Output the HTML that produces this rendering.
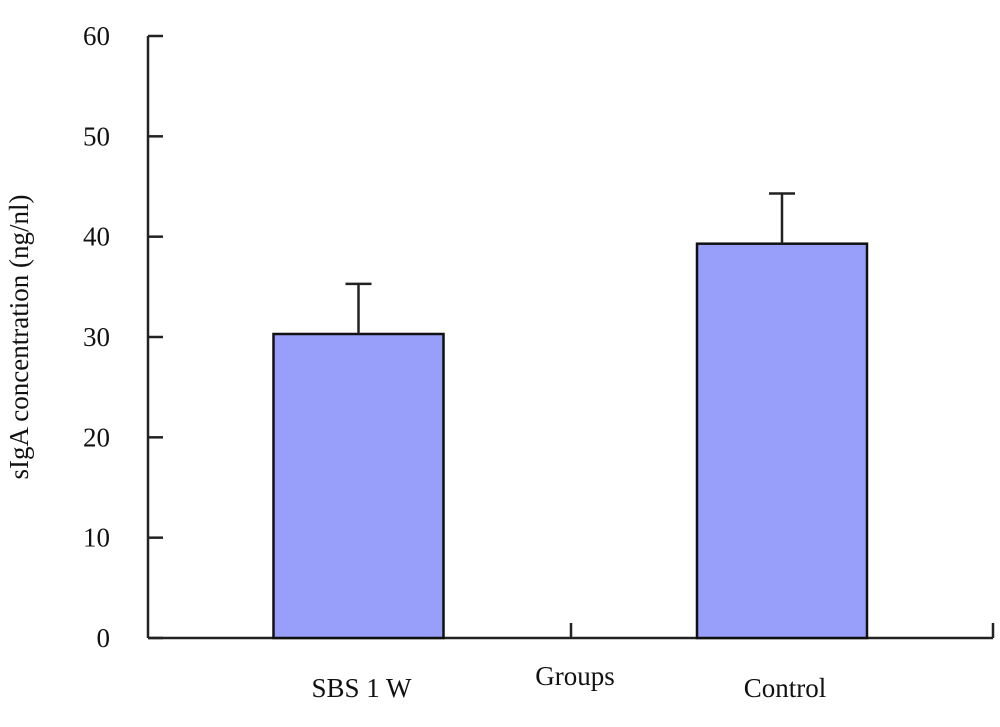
<!DOCTYPE html>
<html><head><meta charset="utf-8"><style>
html,body{margin:0;padding:0;background:#fff;}
svg text{font-family:"Liberation Serif","DejaVu Serif",serif;fill:#111;}
</style></head><body>
<svg id="chart" width="1000" height="722" viewBox="0 0 1000 722" xmlns="http://www.w3.org/2000/svg">
<g id="axes"></g>
<g id="bars"></g>
<text transform="translate(28,337) rotate(-90)" text-anchor="middle" font-size="27">sIgA concentration (ng/nl)</text>
<text x="575" y="685" text-anchor="middle" font-size="27">Groups</text>
</svg>
<script>
const categories = ["SBS 1 W", "Control"];
const values = [30.3, 39.3];
const errors = [5.0, 5.0];
const yTicks = [0, 10, 20, 30, 40, 50, 60];

const NS = "http://www.w3.org/2000/svg";
const x0 = 148, x1 = 993, yBase = 638, yTop = 36, yMax = 60;
const yScale = v => yBase - (v / yMax) * (yBase - yTop);
const barCenters = [358.5, 782];
const barW = 170;
function mk(tag, attrs, parent) {
  const e = document.createElementNS(NS, tag);
  for (const k in attrs) e.setAttribute(k, attrs[k]);
  parent.appendChild(e);
  return e;
}
const axes = document.getElementById('axes');
const bars = document.getElementById('bars');
let el = mk('line', {x1: x0, y1: yTop, x2: x0, y2: yBase, stroke: '#222', 'stroke-width': 2.5}, axes);


el = mk('line', {x1: x0, y1: yBase, x2: x1, y2: yBase, stroke: '#222', 'stroke-width': 2.5}, axes);


[571, x1].forEach(x => {
  const t = mk('line', {x1: x, y1: yBase - 15, x2: x, y2: yBase, stroke: '#222', 'stroke-width': 2.5}, axes);
  
  
});
yTicks.forEach(v => {
  const y = yScale(v);
  const t = mk('line', {x1: x0, y1: y, x2: x0 + 15, y2: y, stroke: '#222', 'stroke-width': 2.5}, axes);
  
  
  const l = mk('text', {x: 110, y: y + 9, 'text-anchor': 'end', 'font-size': 27}, axes);
  l.textContent = v;
  
  
});
categories.forEach((c, i) => {
  const cx = barCenters[i];
  const top = yScale(values[i]);
  const r = mk('rect', {x: cx - barW / 2, y: top, width: barW, height: yBase - top, fill: '#979ffb', stroke: '#111', 'stroke-width': 2.5}, bars);
  
  
  const et = yScale(values[i] + errors[i]);
  const e1 = mk('line', {x1: cx, y1: top, x2: cx, y2: et, stroke: '#222', 'stroke-width': 2.5}, bars);
  
  
  const e2 = mk('line', {x1: cx - 13, y1: et, x2: cx + 13, y2: et, stroke: '#222', 'stroke-width': 2.5}, bars);
  
  
  const l = mk('text', {x: cx + 3, y: 697, 'text-anchor': 'middle', 'font-size': 27}, bars);
  l.textContent = c;
  
  
});
</script>
</body></html>
